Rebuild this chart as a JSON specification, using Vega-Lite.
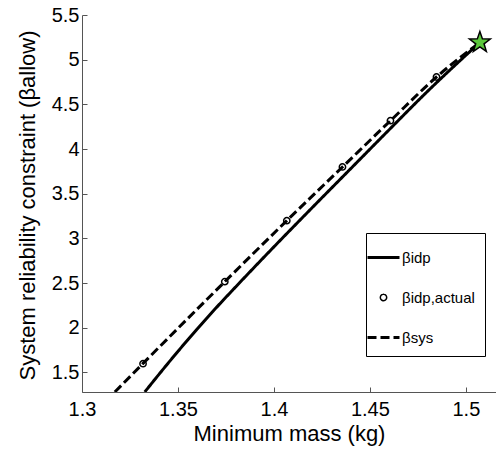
{
  "$schema": "https://vega.github.io/schema/vega-lite/v6.json",
  "width": 414,
  "height": 377,
  "autosize": {"type": "none"},
  "padding": {"left": 82, "top": 15, "right": 0, "bottom": 61},
  "background": "white",
  "config": {
    "view": {"stroke": null},
    "font": "Liberation Sans",
    "axis": {
      "labelFont": "Liberation Sans",
      "titleFont": "Liberation Sans",
      "labelFontSize": 20,
      "titleFontSize": 22,
      "titleFontWeight": "normal",
      "labelColor": "black",
      "titleColor": "black",
      "domainColor": "#555",
      "tickColor": "#555",
      "tickSize": -5,
      "grid": false,
      "labelFlush": false,
      "labelOverlap": false
    }
  },
  "data": {
    "values": [
      {"s": "idp", "x": 1.3327, "y": 1.28},
      {"s": "idp", "x": 1.34, "y": 1.475},
      {"s": "idp", "x": 1.35, "y": 1.735},
      {"s": "idp", "x": 1.36, "y": 1.985},
      {"s": "idp", "x": 1.37, "y": 2.225},
      {"s": "idp", "x": 1.38, "y": 2.455},
      {"s": "idp", "x": 1.4, "y": 2.905},
      {"s": "idp", "x": 1.42, "y": 3.345},
      {"s": "idp", "x": 1.44, "y": 3.78},
      {"s": "idp", "x": 1.46, "y": 4.215},
      {"s": "idp", "x": 1.48, "y": 4.645},
      {"s": "idp", "x": 1.5073, "y": 5.193},
      {"s": "sys", "x": 1.3171, "y": 1.28},
      {"s": "sys", "x": 1.3318, "y": 1.6},
      {"s": "sys", "x": 1.3744, "y": 2.515},
      {"s": "sys", "x": 1.4067, "y": 3.198},
      {"s": "sys", "x": 1.4357, "y": 3.799},
      {"s": "sys", "x": 1.4607, "y": 4.317},
      {"s": "sys", "x": 1.4847, "y": 4.806},
      {"s": "sys", "x": 1.5073, "y": 5.193},
      {"s": "act", "x": 1.3318, "y": 1.597},
      {"s": "act", "x": 1.3744, "y": 2.515},
      {"s": "act", "x": 1.4067, "y": 3.198},
      {"s": "act", "x": 1.4357, "y": 3.799},
      {"s": "act", "x": 1.4607, "y": 4.317},
      {"s": "act", "x": 1.4847, "y": 4.806},
      {"s": "opt", "x": 1.5073, "y": 5.193}
    ]
  },
  "encoding": {
    "x": {
      "field": "x", "type": "quantitative",
      "scale": {"domain": [1.3, 1.5157], "nice": false, "zero": false},
      "axis": {
        "title": "Minimum mass (kg)",
        "values": [1.3, 1.35, 1.4, 1.45, 1.5],
        "format": "~g",
        "labelPadding": 12,
        "titleY": 48,
        "titleBaseline": "alphabetic"
      }
    },
    "y": {
      "field": "y", "type": "quantitative",
      "scale": {"domain": [1.28, 5.5], "nice": false, "zero": false},
      "axis": {
        "title": "System reliability constraint (βallow)",
        "values": [1.5, 2, 2.5, 3, 3.5, 4, 4.5, 5, 5.5],
        "format": "~g",
        "labelPadding": 8,
        "titleX": -55,
        "titleY": 190,
        "titleAngle": -90,
        "titleAlign": "center",
        "titleBaseline": "middle"
      }
    }
  },
  "layer": [
    {
      "transform": [{"filter": "datum.s === 'idp' || datum.s === 'sys'"}],
      "mark": {"type": "line", "color": "black", "strokeWidth": 3, "clip": true, "interpolate": "monotone"},
      "encoding": {
        "strokeDash": {
          "field": "s", "type": "nominal",
          "scale": {"domain": ["idp", "act", "sys"], "range": [[1, 0], [1, 0], [9, 4]]},
          "legend": {
            "title": " ",
            "titleFontSize": 1,
            "titlePadding": 6,
            "orient": "none",
            "legendX": 284,
            "legendY": 218,
            "padding": 10,
            "strokeColor": "black",
            "fillColor": "white",
            "symbolType": "stroke",
            "symbolSize": 1225,
            "symbolStrokeWidth": 3,
            "symbolStrokeColor": "black",
            "labelFont": "Liberation Sans",
            "labelFontSize": 15,
            "labelColor": "black",
            "labelOffset": 11,
            "rowPadding": 24,
            "labelExpr": "datum.value === 'idp' ? 'βidp' : datum.value === 'act' ? 'βidp,actual' : 'βsys'",
            "encode": {
              "symbols": {
                "update": {
                  "shape": {"signal": "datum.value === 'act' ? 'circle' : 'stroke'"},
                  "size": {"signal": "datum.value === 'act' ? 40 : 1024"},
                  "strokeWidth": {"signal": "datum.value === 'act' ? 1.5 : 3"},
                  "stroke": {"value": "black"},
                  "fill": {"value": "transparent"}
                }
              }
            }
          }
        }
      }
    },
    {
      "transform": [{"filter": "datum.s === 'act'"}],
      "mark": {"type": "point", "shape": "circle", "filled": false, "color": "black", "strokeWidth": 1.5, "size": 40, "opacity": 1}
    },
    {
      "transform": [{"filter": "datum.s === 'opt'"}],
      "mark": {
        "type": "point",
        "shape": "M0,-1L0.235,-0.324L0.951,-0.309L0.38,0.124L0.588,0.809L0,0.4L-0.588,0.809L-0.38,0.124L-0.951,-0.309L-0.235,-0.324Z",
        "filled": true,
        "fill": "#5cc83c",
        "stroke": "black",
        "strokeWidth": 1.5,
        "size": 480,
        "opacity": 1,
        "clip": false
      }
    }
  ]
}
